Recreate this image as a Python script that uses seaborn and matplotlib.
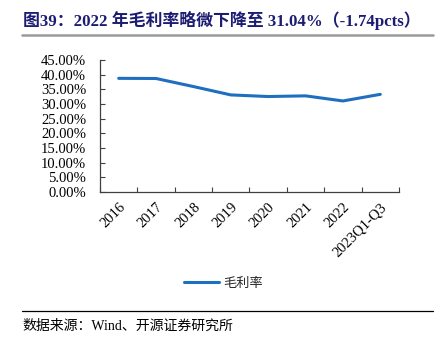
import matplotlib
matplotlib.use("Agg")
import matplotlib.pyplot as plt
import seaborn as sns
import pandas as pd
from matplotlib.ticker import FixedLocator, PercentFormatter
from matplotlib.lines import Line2D

categories = ["2016", "2017", "2018", "2019", "2020", "2021", "2022", "2023Q1-Q3"]
gross_margin = [38.75, 38.70, 35.95, 33.10, 32.55, 32.78, 31.04, 33.30]
yticks = [0, 5, 10, 15, 20, 25, 30, 35, 40, 45]

sns.set_theme(style="white")
plt.rcParams['font.family'] = ['Liberation Serif', 'Noto Sans CJK SC']
plt.rcParams['axes.unicode_minus'] = False

df = pd.DataFrame({"cat": categories, "val": gross_margin})

fig = plt.figure(figsize=(4.47, 3.41), dpi=100)
ax = fig.add_axes([0.2237, 0.437, 0.6689, 0.387])

sns.lineplot(data=df, x="cat", y="val", ax=ax, color="#1f6fc0", linewidth=2.2, sort=False)

ax.set_xlim(-0.5, len(categories) - 0.5)
ax.set_ylim(0, 45)
ax.set_yticks(yticks)
ax.yaxis.set_major_formatter(PercentFormatter(decimals=2))
ax.set_xticks(range(len(categories)))
ax.set_xticklabels(categories, rotation=45, ha="right", rotation_mode="anchor")
ax.xaxis.set_minor_locator(FixedLocator([i - 0.5 for i in range(len(categories) + 1)]))
ax.tick_params(axis="x", which="major", length=0, pad=6, labelsize=10.5, colors="black")
ax.tick_params(axis="x", which="minor", length=3.5, direction="in", width=0.8, color="#404040", bottom=True)
ax.tick_params(axis="y", which="major", length=3.5, direction="in", width=0.8, color="#404040",
               labelsize=10.5, pad=10, left=True)
for lbl in ax.get_yticklabels():
    lbl.set_color("black")
ax.set_xlabel("")
ax.set_ylabel("")
for s in ["top", "right"]:
    ax.spines[s].set_visible(False)
for s in ["left", "bottom"]:
    ax.spines[s].set_color("#404040")
    ax.spines[s].set_linewidth(0.9)
ax.grid(False)

# legend
handle = Line2D([], [], color="#1f6fc0", linewidth=2.2)
fig.legend([handle], ["毛利率"], loc="center", bbox_to_anchor=(0.5, 1 - 283 / 341),
           frameon=False, handlelength=2.6, handletextpad=0.3,
           prop={"family": ["Noto Sans CJK SC"], "size": 9.5})

# title
fig.text(23 / 447, 1 - 20 / 341, "图39：2022 年毛利率略微下降至 31.04%（-1.74pcts）",
         fontsize=12.2, fontweight="bold", color="#1c1c73", ha="left", va="center")
fig.add_artist(Line2D([22 / 447, 433 / 447], [1 - 35 / 341, 1 - 35 / 341],
                      color="#9a9a9a", linewidth=1.8, transform=fig.transFigure))
# source
fig.add_artist(Line2D([22 / 447, 433 / 447], [1 - 311 / 341, 1 - 311 / 341],
                      color="black", linewidth=0.9, transform=fig.transFigure))
fig.text(22 / 447, 1 - 326 / 341, "数据来源：Wind、开源证券研究所",
         fontsize=10, color="black", ha="left", va="center")

fig.savefig("out.png", dpi=100)
